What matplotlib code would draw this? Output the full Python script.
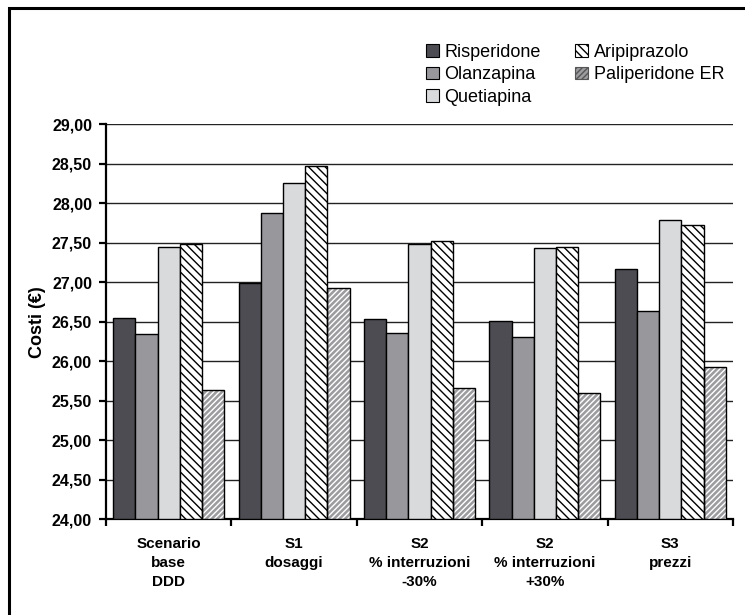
import matplotlib
matplotlib.use("Agg")
import matplotlib.pyplot as plt
import numpy as np
from matplotlib.patches import Rectangle, Patch
from matplotlib.ticker import FuncFormatter, FixedLocator

plt.rcParams["font.family"] = ["Liberation Sans", "DejaVu Sans"]

scenari = ["Scenario\nbase\nDDD", "S1\ndosaggi", "S2\n% interruzioni\n-30%",
           "S2\n% interruzioni\n+30%", "S3\nprezzi"]
farmaci = ["Risperidone", "Olanzapina", "Quetiapina", "Aripiprazolo", "Paliperidone ER"]

risperidone = [26.54, 26.99, 26.53, 26.51, 27.17]
olanzapina = [26.34, 27.88, 26.35, 26.31, 26.63]
quetiapina = [27.45, 28.26, 27.48, 27.43, 27.79]
aripiprazolo = [27.48, 28.47, 27.52, 27.45, 27.73]
paliperidone = [25.64, 26.92, 25.66, 25.60, 25.93]

serie = [risperidone, olanzapina, quetiapina, aripiprazolo, paliperidone]
facce = ["#4d4c52", "#98979c", "#d9dadc", "white", "#9c9ca0"]
tratteggi = [None, None, None, "\\\\\\\\", "//////"]
coloreTratt = [None, None, None, "black", "white"]

fig = plt.figure(figsize=(7.45, 6.15), dpi=100)
ax = fig.add_axes([0.1423, 0.156, 0.8417, 0.642])

# cornice esterna
fig.patches.append(Rectangle((0.012, -0.05), 1.2, 1.037, transform=fig.transFigure,
                             fill=False, edgecolor="black", linewidth=2.2, zorder=10))

x = np.arange(len(scenari))
w = 0.177
base = 24.0
for i, (vals, fc, h, hc) in enumerate(zip(serie, facce, tratteggi, coloreTratt)):
    pos = x + (i - 2) * w
    heights = np.array(vals) - base
    if h:
        ax.bar(pos, heights, w, bottom=base, color=fc, edgecolor=hc, hatch=h,
               linewidth=0, zorder=3)
        ax.bar(pos, heights, w, bottom=base, fill=False, edgecolor="black",
               linewidth=1.0, zorder=4)
    else:
        ax.bar(pos, heights, w, bottom=base, color=fc, edgecolor="black",
               linewidth=1.0, zorder=3)

ax.set_ylim(24, 29)
ax.set_xlim(-0.5, 4.5)
ax.set_yticks(np.arange(24, 29.01, 0.5))
ax.yaxis.set_major_formatter(FuncFormatter(lambda v, p: f"{v:.2f}".replace(".", ",")))
ax.yaxis.grid(True, color="#222222", linewidth=1.0, zorder=0)
ax.set_axisbelow(True)

ax.set_xticks(x)
ax.set_xticklabels(scenari, fontweight="bold", fontsize=11, linespacing=1.45)
ax.xaxis.set_minor_locator(FixedLocator(np.arange(-0.5, 4.6, 1)))
ax.tick_params(axis="x", which="major", length=0, pad=13)
ax.tick_params(axis="x", which="minor", length=5, width=1.6, direction="out")
ax.tick_params(axis="y", length=5, width=1.6, direction="out", labelsize=11.5, pad=5)
for lab in ax.get_yticklabels():
    lab.set_fontweight("bold")

for s in ["top", "right"]:
    ax.spines[s].set_visible(False)
for s in ["left", "bottom"]:
    ax.spines[s].set_linewidth(1.6)

ax.set_ylabel("Costi (€)", fontweight="bold", fontsize=13, labelpad=4)

maniglie = []
for nome, fc, h, hc in zip(farmaci, facce, tratteggi, coloreTratt):
    if h:
        maniglie.append(Patch(facecolor=fc, edgecolor="black" if hc == "black" else "#555555",
                              hatch=h, label=nome, linewidth=0.8))
    else:
        maniglie.append(Patch(facecolor=fc, edgecolor="black", label=nome, linewidth=0.8))

fig.legend(handles=maniglie, ncol=2, loc="upper left", bbox_to_anchor=(0.55, 0.955),
           frameon=False, fontsize=13, handlelength=0.72, handleheight=0.72,
           handletextpad=0.3, columnspacing=1.9, labelspacing=0.3)

fig.savefig("out.png", dpi=100)
